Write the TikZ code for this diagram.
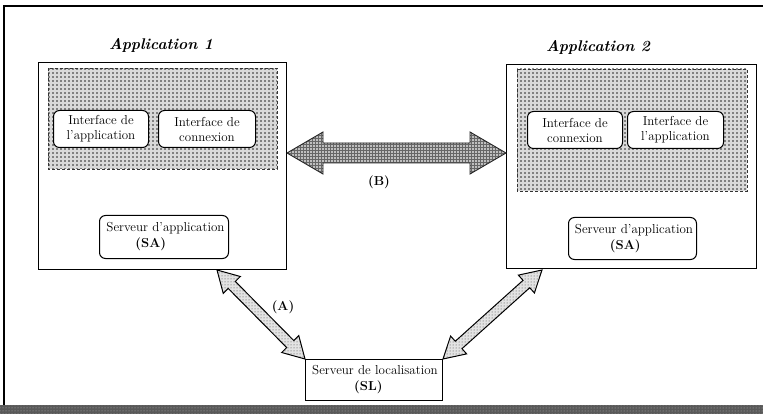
\documentclass[tikz,border=0pt]{standalone}
\usetikzlibrary{calc,patterns}
\pgfdeclarepatternformonly{dotgrid}{\pgfqpoint{-1pt}{-1pt}}{\pgfqpoint{3pt}{3pt}}{\pgfqpoint{4pt}{4pt}}{%
  \pgfpathcircle{\pgfqpoint{1pt}{1pt}}{0.8pt}\pgfusepath{fill}}
\pgfdeclarepatternformonly{finegrid}{\pgfqpoint{-1pt}{-1pt}}{\pgfqpoint{3pt}{3pt}}{\pgfqpoint{3pt}{3pt}}{%
  \pgfsetlinewidth{0.7pt}%
  \pgfpathmoveto{\pgfqpoint{0pt}{0pt}}\pgfpathlineto{\pgfqpoint{3pt}{0pt}}%
  \pgfpathmoveto{\pgfqpoint{0pt}{0pt}}\pgfpathlineto{\pgfqpoint{0pt}{3pt}}%
  \pgfusepath{stroke}}
\newcommand{\fatarrow}[6]{% from, to, shaft half-width, head half-width, head length, style
  \filldraw[#6] (#1)
    -- ($(#1)!#5!(#2)!#4!90:(#2)$)
    -- ($(#1)!#5!(#2)!#3!90:(#2)$)
    -- ($(#2)!#5!(#1)!#3!-90:(#1)$)
    -- ($(#2)!#5!(#1)!#4!-90:(#1)$)
    -- (#2)
    -- ($(#2)!#5!(#1)!#4!90:(#1)$)
    -- ($(#2)!#5!(#1)!#3!90:(#1)$)
    -- ($(#1)!#5!(#2)!#3!-90:(#2)$)
    -- ($(#1)!#5!(#2)!#4!-90:(#2)$)
    -- cycle;}
\tikzset{
  appbox/.style={draw, line width=1.2pt, inner sep=0pt, anchor=north west},
  greyzone/.style={draw=black!80, densely dashed, line width=0.6pt,
    preaction={fill=gray!30}, pattern=dotgrid, pattern color=black!85},
  ibox/.style={draw, rounded corners=6pt, line width=1pt, fill=white,
    font=\fontsize{13}{15}\selectfont, align=center, inner sep=0pt, anchor=north west},
  sbox/.style={draw, line width=1pt, fill=white,
    font=\fontsize{13}{16}\selectfont, align=left, inner sep=0pt, anchor=north west},
  apptitle/.style={font=\fontsize{15.5}{18}\selectfont\bfseries\itshape},
  lbl/.style={font=\fontsize{13}{15}\selectfont\bfseries},
  fatdots/.style={draw=black, line width=1pt, preaction={fill=gray!22}, pattern=dots, pattern color=black!75},
  fatgrid/.style={draw=black!85, line width=0.9pt, preaction={fill=gray!50}, pattern=finegrid, pattern color=gray!80!black}
}
\begin{document}
\begin{tikzpicture}[x=1pt,y=-1pt]
\useasboundingbox (0,0) rectangle (763,414);
% outer frame and bottom band
\draw[line width=1.4pt] (763,6) -- (4,6) -- (4,405);
\fill[black!65] (0,405) rectangle (763,414);
\fill[pattern=dots, pattern color=white!70!black] (0,405) rectangle (763,414);

% Application 1
\node[apptitle] (t1) at (161,45) {Application 1};
\node[appbox, minimum width=248pt, minimum height=207pt] (app1) at (38,62) {};
\path[greyzone] (48,68) rectangle (277,169);
\node[ibox, minimum width=95pt, minimum height=37pt] (ia1) at (53,110) {Interface de\\l'application};
\node[ibox, minimum width=97pt, minimum height=37pt] (ic1) at (158,110) {Interface de\\connexion};
\node[sbox, rounded corners=6pt, minimum width=129pt, minimum height=43pt] (sa1) at (99,215)
  {\hspace*{3pt}Serveur d'application\\\hspace*{32pt}\textbf{(SA)}};

% Application 2
\node[apptitle] (t2) at (598,47) {Application 2};
\node[appbox, minimum width=250pt, minimum height=204pt] (app2) at (506,64) {};
\path[greyzone] (517,69) rectangle (747,191);
\node[ibox, minimum width=95pt, minimum height=37pt] (ic2) at (527,111) {Interface de\\connexion};
\node[ibox, minimum width=96pt, minimum height=37pt] (ia2) at (627,111) {Interface de\\l'application};
\node[sbox, rounded corners=6pt, minimum width=128pt, minimum height=42pt] (sa2) at (568,217)
  {\hspace*{3pt}Serveur d'application\\\hspace*{38pt}\textbf{(SA)}};

% Serveur de localisation
\node[sbox, minimum width=137pt, minimum height=41pt] (sl) at (305,359)
  {\hspace*{2pt}Serveur de localisation\\\hspace*{44pt}\textbf{(SL)}};

% arrows
\coordinate (Bl) at (287,153);
\coordinate (Br) at (506,153);
\fatarrow{Bl}{Br}{10pt}{21pt}{36pt}{fatgrid}
\node[lbl] (lB) at (379,182) {(B)};

\coordinate (Aa) at (217,270);
\fatarrow{Aa}{sl.north west}{5pt}{12pt}{21pt}{fatdots}
\node[lbl] (lA) at (283,307) {(A)};

\coordinate (Ca) at (542,270);
\fatarrow{Ca}{sl.north east}{5pt}{12pt}{21pt}{fatdots}
\end{tikzpicture}
\end{document}
